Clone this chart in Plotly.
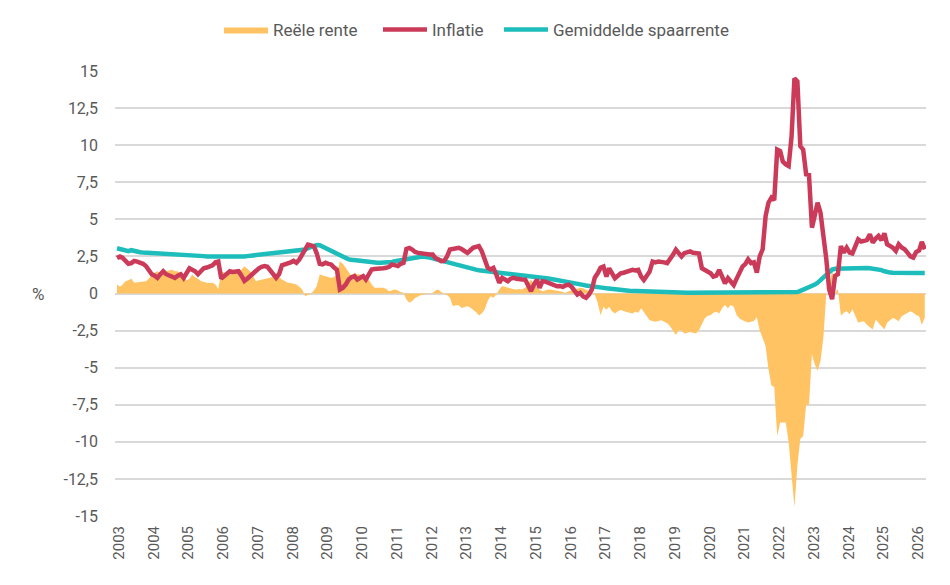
import pandas as pd
import plotly.graph_objects as go

# Monthly data, Jan 2003 .. Apr 2026
inflatie = [
    2.4, 2.5, 2.4, 2.2, 2.0, 2.05, 2.2, 2.15, 2.1, 2.0, 1.85, 1.6,      # 2003
    1.3, 1.2, 1.05, 1.3, 1.5, 1.3, 1.2, 1.1, 1.05, 1.2, 1.3, 1.05,      # 2004
    1.4, 1.7, 1.6, 1.5, 1.3, 1.5, 1.7, 1.75, 1.85, 1.9, 2.1, 2.15,      # 2005
    1.0, 1.2, 1.35, 1.5, 1.45, 1.5, 1.5, 1.2, 0.85, 1.0, 1.2, 1.3,      # 2006
    1.5, 1.7, 1.8, 1.85, 1.8, 1.6, 1.3, 1.05, 1.3, 1.9, 1.95, 2.07,     # 2007
    2.1, 2.2, 2.07, 2.3, 2.6, 3.0, 3.3, 3.25, 3.18, 2.7, 2.0, 1.96,     # 2008
    2.07, 2.0, 1.96, 1.75, 1.6, 0.27, 0.38, 0.6, 0.94, 1.1, 1.17, 0.94, # 2009
    1.1, 1.17, 0.94, 1.28, 1.62, 1.65, 1.65, 1.7, 1.7, 1.73, 1.8, 1.96, # 2010
    1.9, 1.85, 2.0, 2.07, 3.0, 3.07, 2.96, 2.8, 2.74, 2.7, 2.65, 2.63,  # 2011
    2.63, 2.63, 2.4, 2.3, 2.18, 2.2, 2.5, 2.97, 3.0, 3.05, 3.08, 3.0,   # 2012
    2.9, 2.74, 2.9, 3.08, 3.15, 3.2, 2.86, 2.18, 1.75, 1.62, 1.73, 1.28,# 2013
    0.72, 1.06, 0.95, 0.83, 1.0, 1.06, 1.0, 0.94, 0.95, 0.94, 0.5, 0.16,# 2014
    0.6, 0.94, 0.38, 0.83, 0.8, 0.72, 0.65, 0.6, 0.49, 0.5, 0.45, 0.55, # 2015
    0.6, 0.45, 0.2, -0.07, 0.04, -0.2, -0.29, -0.07, 0.27, 1.06, 1.36, 1.73, # 2016
    1.82, 1.14, 1.7, 1.3, 1.03, 1.2, 1.36, 1.4, 1.48, 1.5, 1.59, 1.55,  # 2017
    1.59, 1.14, 0.91, 1.2, 1.48, 2.16, 2.1, 2.16, 2.16, 2.1, 2.05, 2.3, # 2018
    2.61, 2.95, 2.7, 2.5, 2.72, 2.8, 2.84, 2.75, 2.72, 2.7, 1.7, 1.6,   # 2019
    1.5, 1.36, 1.14, 1.2, 1.59, 1.14, 0.69, 1.03, 0.8, 0.57, 1.0, 1.48, # 2020
    1.82, 2.0, 2.31, 2.05, 2.1, 1.41, 2.5, 2.98, 5.22, 6.12, 6.46, 6.3, # 2021
    9.7, 9.6, 8.9, 8.7, 8.59, 10.6, 14.5, 14.3, 9.93, 9.7, 8.03, 8.0,   # 2022
    4.44, 5.3, 6.12, 5.45, 4.1, 2.31, 0.29, -0.38, 1.19, 1.3, 3.2, 2.76,# 2023
    3.09, 2.76, 2.7, 3.2, 3.65, 3.5, 3.54, 3.6, 3.99, 3.43, 3.7, 3.88,  # 2024
    3.6, 4.06, 3.32, 3.2, 3.09, 2.87, 3.32, 3.1, 2.98, 2.76, 2.5, 2.42, # 2025
    2.8, 2.9, 3.48, 2.98,                                                # 2026
]

spaarrente = [
    3.05, 3.0, 2.95, 2.9, 2.85, 2.92, 2.85, 2.8, 2.78, 2.76, 2.75, 2.75,
    2.75, 2.74, 2.73, 2.72, 2.72, 2.71, 2.7, 2.7, 2.69, 2.68, 2.67, 2.66,
    2.64, 2.62, 2.6, 2.58, 2.56, 2.54, 2.52, 2.5, 2.5, 2.49, 2.48, 2.47,
    2.46, 2.45, 2.44, 2.44, 2.44, 2.45, 2.46, 2.48, 2.5, 2.52, 2.54, 2.55,
    2.56, 2.58, 2.6, 2.62, 2.64, 2.66, 2.68, 2.7, 2.72, 2.74, 2.76, 2.78,
    2.8, 2.82, 2.85, 2.88, 2.92, 2.97, 3.05, 3.12, 3.2, 3.27, 3.25, 3.15,
    3.1, 3.0, 2.88, 2.75, 2.65, 2.55, 2.45, 2.38, 2.3, 2.27, 2.24, 2.22,
    2.2, 2.18, 2.15, 2.12, 2.1, 2.09, 2.08, 2.07, 2.07, 2.08, 2.1, 2.13,
    2.18, 2.22, 2.26, 2.3, 2.34, 2.38, 2.42, 2.45, 2.47, 2.47, 2.47, 2.47,
    2.42, 2.38, 2.34, 2.3, 2.25, 2.2, 2.14, 2.08, 2.02, 1.96, 1.9, 1.84,
    1.78, 1.73, 1.69, 1.65, 1.61, 1.57, 1.55, 1.52, 1.5, 1.48, 1.46, 1.44,
    1.42, 1.4, 1.38, 1.36, 1.34, 1.32, 1.3, 1.28, 1.25, 1.22, 1.2, 1.17,
    1.14, 1.12, 1.1, 1.07, 1.04, 1.01, 0.98, 0.95, 0.92, 0.88, 0.85, 0.82,
    0.78, 0.74, 0.7, 0.66, 0.62, 0.58, 0.54, 0.5, 0.47, 0.45, 0.43, 0.41,
    0.38, 0.35, 0.32, 0.3, 0.28, 0.26, 0.24, 0.22, 0.2, 0.18, 0.17, 0.16,
    0.15, 0.14, 0.13, 0.12, 0.11, 0.1, 0.1, 0.09, 0.08, 0.08, 0.07, 0.07,
    0.06, 0.06, 0.06, 0.05, 0.05, 0.05, 0.05, 0.05, 0.05, 0.05, 0.05, 0.05,
    0.05, 0.05, 0.05, 0.05, 0.05, 0.05, 0.05, 0.05, 0.05, 0.05, 0.05, 0.05,
    0.05, 0.05, 0.05, 0.05, 0.04, 0.04, 0.04, 0.04, 0.04, 0.04, 0.04, 0.04,
    0.03, 0.03, 0.03, 0.03, 0.03, 0.04, 0.06, 0.1, 0.18, 0.25, 0.32, 0.4,
    0.5, 0.6, 0.72, 0.9, 1.08, 1.3, 1.5, 1.62, 1.67, 1.68, 1.68, 1.68,
    1.68, 1.68, 1.7, 1.72, 1.75, 1.74, 1.72, 1.72, 1.7, 1.68, 1.66, 1.64,
    1.58, 1.5, 1.44, 1.41, 1.4, 1.39, 1.38, 1.37, 1.36, 1.35, 1.35, 1.36,
    1.37, 1.38, 1.39, 1.39,
]

reele_rente = [
    0.6, 0.45, 0.6, 0.83, 0.9, 1.0, 0.72, 0.75, 0.75, 0.76, 0.83, 1.0,
    1.28, 1.4, 1.5, 1.4, 1.3, 1.5, 1.55, 1.6, 1.5, 1.5, 1.35, 1.28,
    0.88, 1.0, 1.28, 1.1, 1.0, 0.83, 0.8, 0.72, 0.7, 0.72, 0.6, 0.3,
    1.5, 1.4, 1.4, 1.3, 1.35, 1.45, 1.5, 1.6, 1.84, 1.7, 1.5, 1.2,
    0.83, 0.9, 0.94, 0.94, 1.0, 1.06, 1.17, 1.4, 1.1, 0.94, 0.85, 0.72,
    0.7, 0.65, 0.6, 0.45, 0.27, -0.18, -0.1, 0.0, 0.2, 0.5, 1.28, 1.2,
    1.17, 1.1, 1.06, 1.1, 1.28, 2.18, 2.0, 1.73, 1.4, 1.17, 1.4, 1.3,
    1.28, 1.2, 1.17, 0.94, 0.6, 0.38, 0.4, 0.38, 0.38, 0.3, 0.16, 0.2,
    0.27, 0.2, 0.1, 0.05, -0.4, -0.63, -0.5, -0.3, -0.2, -0.1, -0.07, -0.03,
    0.0, 0.05, 0.2, 0.27, 0.1, 0.0, -0.1, -0.29, -0.86, -0.8, -0.8, -0.97,
    -0.9, -0.86, -0.95, -1.08, -1.25, -1.48, -1.35, -1.08, -0.5, -0.18, -0.29, -0.07,
    0.27, 0.5, 0.45, 0.38, 0.3, 0.28, 0.27, 0.3, 0.27, 0.4, 0.6, 0.94,
    0.6, 0.38, 0.25, 0.16, 0.2, 0.27, 0.25, 0.2, 0.18, 0.16, 0.1, 0.05,
    0.15, 0.2, 0.27, 0.35, 0.38, 0.35, 0.27, 0.15, 0.0, -0.07, -0.63, -1.46,
    -0.9, -1.1, -0.9, -1.2, -1.35, -1.2, -1.12, -1.2, -1.25, -1.3, -1.35, -1.23,
    -1.3, -1.0, -1.23, -1.5, -1.8, -1.85, -1.9, -1.85, -1.8, -1.9, -2.0, -2.2,
    -2.47, -2.8, -2.47, -2.5, -2.7, -2.65, -2.6, -2.65, -2.7, -2.47, -2.1, -1.68,
    -1.5, -1.46, -1.3, -1.23, -1.35, -1.0, -0.78, -1.0, -0.78, -0.9, -1.46, -1.68,
    -1.8, -1.9, -1.95, -1.9, -1.85, -1.6, -2.47, -3.0, -3.55, -5.09, -6.21, -6.3,
    -9.6, -8.7, -8.7, -8.7, -10.0, -12.3, -14.4, -11.6, -9.8, -9.6, -7.5, -7.5,
    -4.1, -4.8, -5.2, -4.55, -3.0, 0.0, 0.0, 1.8, 0.0, 0.3, -1.5, -1.3,
    -1.2, -1.4, -1.07, -1.5, -1.98, -1.9, -1.87, -2.1, -2.3, -2.43, -1.75, -2.0,
    -2.2, -2.43, -1.98, -1.8, -1.64, -1.75, -1.87, -1.53, -1.4, -1.3, -1.2, -1.3,
    -1.45, -1.53, -2.1, -1.64,
]

maanden = pd.date_range("2003-01-01", periods=len(inflatie), freq="MS")

jaren = list(range(2003, 2027))
jaar_ticks = [f"{j}-01-22" for j in jaren]
jaar_labels = [str(j) for j in jaren]

y_ticks = [15, 12.5, 10, 7.5, 5, 2.5, 0, -2.5, -5, -7.5, -10, -12.5, -15]
y_labels = ["15", "12,5", "10", "7,5", "5", "2,5", "0", "-2,5", "-5", "-7,5", "-10", "-12,5", "-15"]

ORANJE = "#FFC363"
ROOD = "#CB3B59"
TEAL = "#1DBDBC"
GRIJS = "#595959"
TICKFONT = "Liberation Sans Narrow, Roboto, sans-serif"
LEGFONT = dict(family="Roboto, sans-serif", size=17, color=GRIJS)

fig = go.Figure()
fig.add_trace(go.Scatter(
    x=maanden, y=reele_rente, name="Reële rente", mode="lines",
    line=dict(width=0, color=ORANJE), fill="tozeroy", fillcolor=ORANJE,
    legend="legend",
))
fig.add_trace(go.Scatter(
    x=maanden, y=spaarrente, name="Gemiddelde spaarrente", mode="lines",
    line=dict(width=4.5, color=TEAL), legend="legend3",
))
fig.add_trace(go.Scatter(
    x=maanden, y=inflatie, name="Inflatie", mode="lines",
    line=dict(width=4.5, color=ROOD), legend="legend2",
))

def leg(xpix):
    return dict(
        orientation="h", xref="container", yref="container",
        x=xpix / 950, xanchor="left", y=0.949, yanchor="middle",
        font=LEGFONT, itemwidth=44, bgcolor="rgba(0,0,0,0)",
    )

fig.update_layout(
    width=950, height=585,
    margin=dict(l=115, r=24, t=71, b=69, autoexpand=False),
    paper_bgcolor="white", plot_bgcolor="white",
    showlegend=True,
    legend=leg(219),
    legend2=leg(378),
    legend3=leg(499),
    xaxis=dict(
        type="date",
        range=["2002-12-11", "2026-04-14"],
        tickmode="array", tickvals=jaar_ticks, ticktext=jaar_labels,
        tickangle=-90, showgrid=False, zeroline=False, showline=False,
        ticks="", ticklabelstandoff=6,
        tickfont=dict(family=TICKFONT, size=15, color=GRIJS),
    ),
    yaxis=dict(
        range=[-15, 15], tickmode="array", tickvals=y_ticks, ticktext=y_labels,
        showgrid=True, gridcolor="#D9D9D9", gridwidth=2,
        zeroline=False, showline=False, ticks="", ticklabelstandoff=16,
        tickfont=dict(family=TICKFONT, size=16, color=GRIJS),
    ),
    annotations=[dict(
        text="%", xref="paper", yref="y", x=-0.095, y=0,
        showarrow=False, xanchor="center", yanchor="middle",
        font=dict(family=TICKFONT, size=17, color=GRIJS),
    )],
)

fig.write_html("out.html")
